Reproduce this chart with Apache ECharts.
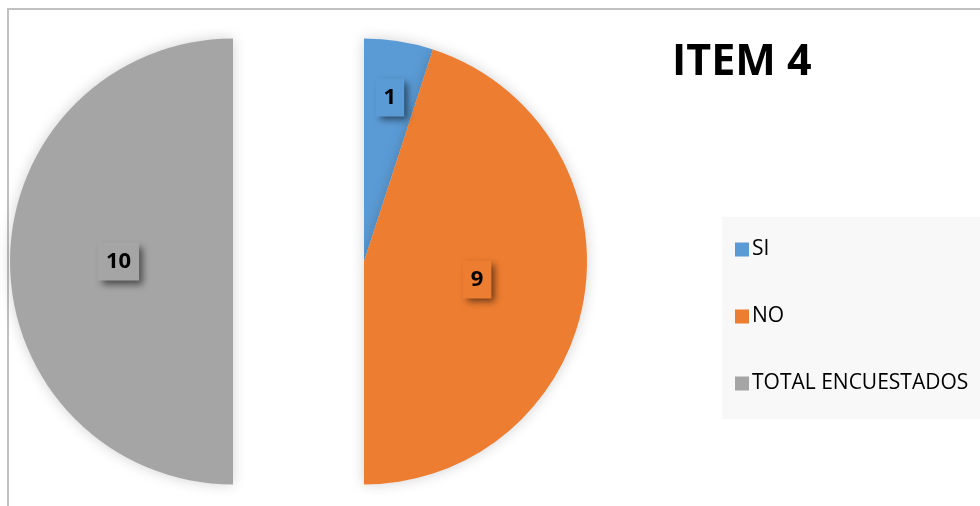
<!DOCTYPE html>
<html>
<head>
<meta charset="utf-8">
<script src="https://cdn.jsdelivr.net/npm/echarts@6/dist/echarts.min.js"></script>
<style>
html,body{margin:0;padding:0;background:#fff;}
#chart{width:980px;height:506px;}
</style>
</head>
<body>
<div id="chart"></div>
<script>
// datos del item 4
var categories = ['SI', 'NO', 'TOTAL ENCUESTADOS'];
var values = [1, 9, 10];
var colors = ['#5b9bd5', '#ed7d31', '#a5a5a5'];
var titulo = 'ITEM 4';

function buildData(visibles){
    var d = [];
    for(var i=0;i<categories.length;i++){
        var ver = visibles.indexOf(i) >= 0;
        var item = {
            name: categories[i],
            value: values[i],
            itemStyle: {
                color: colors[i],
                opacity: ver ? 1 : 0,
                shadowBlur: ver ? 14 : 0,
                shadowColor: 'rgba(0,0,0,0.18)'
            },
            label: {
                show: ver,
                backgroundColor: colors[i]
            }
        };
        if(i == 0){
            item.label.offset = [8, -51]; // la etiqueta chica va mas afuera
        }
        d.push(item);
    }
    return d;
}

var labelStyle = {
    show: true,
    position: 'inside',
    formatter: '{c}',
    fontFamily: 'Open Sans',
    fontWeight: 'bold',
    fontSize: 22,
    color: '#000',
    padding: [9, 8, 7, 8],
    shadowBlur: 7,
    shadowOffsetX: 4,
    shadowOffsetY: 4,
    shadowColor: 'rgba(0,0,0,0.55)'
};

var legendData = [];
for(var i=0;i<categories.length;i++){
    legendData.push({name: categories[i], itemStyle: {color: colors[i], opacity: 1}});
}

var option = {
    animation: false,
    backgroundColor: '#fff',
    title: {
        text: titulo,
        left: 667,
        top: 36,
        textStyle: {
            fontFamily: 'Open Sans',
            fontWeight: 'bold',
            fontSize: 43,
            color: '#000'
        }
    },
    legend: {
        orient: 'vertical',
        left: 722,
        top: 217,
        backgroundColor: '#f8f8f8',
        padding: [22, 14, 25, 13],
        itemWidth: 14,
        itemHeight: 14,
        itemGap: 46,
        icon: 'rect',
        selectedMode: false,
        textStyle: {
            fontFamily: 'Open Sans',
            fontSize: 21,
            color: '#000',
            padding: [0, 0, 0, -2]
        },
        data: legendData
    },
    graphic: [
        {type: 'line', shape: {x1: 8, y1: 9, x2: 8, y2: 506}, style: {stroke: '#c0c0c0', lineWidth: 2}},
        {type: 'line', shape: {x1: 7, y1: 9, x2: 980, y2: 9}, style: {stroke: '#c0c0c0', lineWidth: 2}}
    ],
    series: [
        {
            name: 'SI / NO',
            type: 'pie',
            center: [364, 261.5],
            radius: [0, 223],
            startAngle: 90,
            clockwise: true,
            silent: true,
            label: labelStyle,
            labelLine: {show: false},
            emphasis: {disabled: true},
            data: buildData([0, 1])
        },
        {
            name: 'TOTAL',
            type: 'pie',
            center: [233, 261.5],
            radius: [0, 223],
            startAngle: 90,
            clockwise: true,
            silent: true,
            label: labelStyle,
            labelLine: {show: false},
            emphasis: {disabled: true},
            data: buildData([2])
        }
    ]
};

var myChart = echarts.init(document.getElementById('chart'));
myChart.setOption(option);
</script>
</body>
</html>
